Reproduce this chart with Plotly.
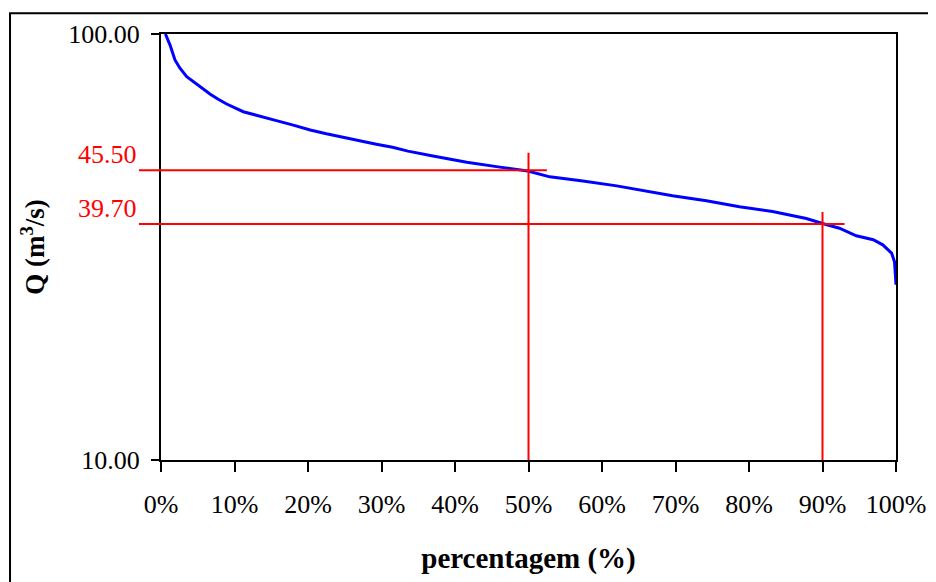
import math
import plotly.graph_objects as go

# Flow duration curve
pct = [0.006, 0.0122, 0.019, 0.0258, 0.035, 0.0439, 0.0553, 0.0666, 0.0779, 0.0893,
       0.112, 0.135, 0.157, 0.180, 0.203, 0.225, 0.248, 0.271, 0.293, 0.315,
       0.336, 0.370, 0.416, 0.461, 0.499, 0.529, 0.574, 0.620, 0.660, 0.696,
       0.742, 0.787, 0.832, 0.878, 0.900, 0.923, 0.946, 0.969, 0.982, 0.994,
       0.998, 1.000]
q = [100.0, 94.3, 86.9, 83.1, 79.4, 77.3, 74.6, 72.3, 70.3, 68.5,
     65.7, 64.2, 62.6, 61.1, 59.5, 58.3, 57.2, 55.9, 55.1, 54.2,
     53.1, 51.7, 50.0, 48.7, 47.7, 46.2, 45.2, 44.0, 42.8, 41.7,
     40.6, 39.3, 38.3, 36.9, 35.9, 35.0, 33.6, 32.9, 32.0, 30.6,
     29.2, 25.8]

# Reference lines (labels as printed, levels as drawn)
ref_pct = [0.50, 0.90]
ref_labels = ["45.50", "39.70"]
ref_levels = [47.9, 35.8]
ref_hline_end = [0.525, 0.93]
ref_vline_top = [52.6, 38.2]

x_ticks = [i / 10 for i in range(11)]
y_ticks = [10, 100]
y_ticktext = ["10.00", "100.00"]

FONT = "Liberation Serif"

fig = go.Figure()
fig.add_trace(go.Scatter(x=pct, y=q, mode="lines",
                         line=dict(color="#0000FF", width=3),
                         showlegend=False, hoverinfo="skip"))

shapes = []
annotations = []
for p, lab, lev, xe, vt in zip(ref_pct, ref_labels, ref_levels, ref_hline_end, ref_vline_top):
    shapes.append(dict(type="line", xref="paper", yref="y", x0=-0.03, x1=xe,
                       y0=lev, y1=lev, line=dict(color="#FF0000", width=2)))
    shapes.append(dict(type="line", xref="x", yref="y", x0=p, x1=p,
                       y0=10, y1=vt, line=dict(color="#FF0000", width=2)))
    annotations.append(dict(text=lab, xref="paper", yref="y", x=-0.03,
                            y=math.log10(lev), xanchor="right", yanchor="middle",
                            yshift=16, showarrow=False,
                            font=dict(family=FONT, size=26, color="#FF0000")))

# outer frame
shapes.append(dict(type="rect", xref="paper", yref="paper", x0=-0.2054, x1=1.08,
                   y0=-0.35, y1=1.049, line=dict(color="black", width=2),
                   fillcolor="rgba(0,0,0,0)", layer="below"))

fig.update_layout(
    width=936, height=582,
    margin=dict(l=153, r=48, t=26, b=130),
    paper_bgcolor="white", plot_bgcolor="white",
    font=dict(family=FONT, size=26, color="black"),
    shapes=shapes, annotations=annotations,
    xaxis=dict(range=[0, 1], tickvals=x_ticks, tickformat=".0%",
               ticks="outside", ticklen=10, tickwidth=2, tickcolor="black",
               showline=True, linewidth=2, linecolor="black", mirror=True,
               showgrid=False, zeroline=False, ticklabelstandoff=10,
               tickfont=dict(family=FONT, size=26),
               title=dict(text="<b>percentagem (%)</b>", standoff=29,
                          font=dict(family=FONT, size=29))),
    yaxis=dict(type="log", range=[1, 2], tickvals=y_ticks, ticktext=y_ticktext,
               ticks="outside", ticklen=8, tickwidth=2, tickcolor="black",
               showline=True, linewidth=2, linecolor="black", mirror=True,
               showgrid=False, zeroline=False, ticklabelstandoff=6,
               tickfont=dict(family=FONT, size=26),
               title=dict(text="<b>Q (m<sup>3</sup>/s)</b>", standoff=16,
                          font=dict(family=FONT, size=27))),
)

fig.write_html("out.html")
